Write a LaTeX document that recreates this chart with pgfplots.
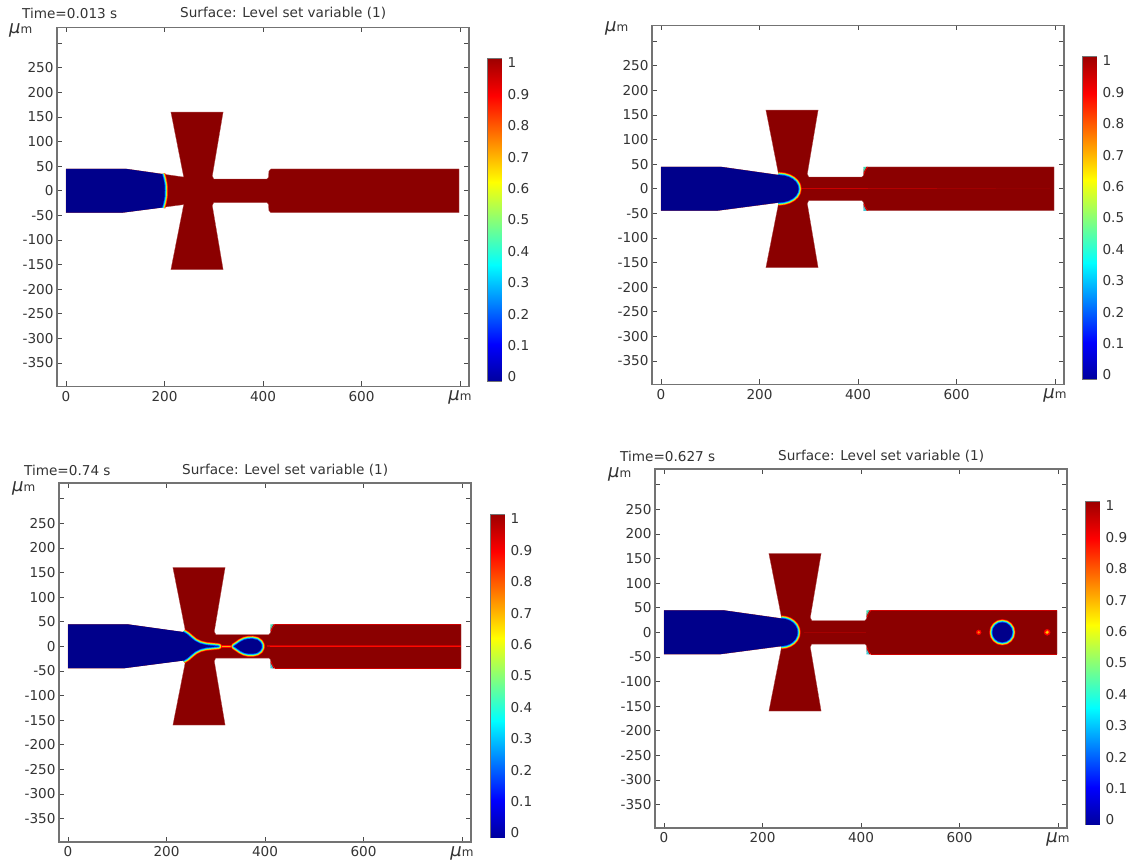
\documentclass[border=0pt]{standalone}
\usepackage{pgfplots}
\usepackage{fontspec}
\setmainfont{DejaVu Sans}
\pgfplotsset{compat=1.18}
\definecolor{navyb}{RGB}{0,0,139}
\definecolor{darkr}{RGB}{139,0,0}
\definecolor{txt}{gray}{0.2}
\definecolor{boxc}{gray}{0.45}
\newcommand\tl{\fontsize{13.6}{16}\selectfont}
\newcommand\um{{\fontsize{18}{18}\selectfont\itshape µ}{\fontsize{12}{12}\selectfont m}}
\pgfplotsset{
  panel/.style={
    scale only axis, width=412pt, height=359pt, anchor=south west,
    xmin=-18.3, xmax=818.3, ymin=-397.8, ymax=332,
    xtick={0,200,400,600,800},
    xticklabels={0,200,400,600,{\um}},
    ytick={-350,-300,-250,-200,-150,-100,-50,0,50,100,150,200,250,300},
    yticklabels={-350,-300,-250,-200,-150,-100,-50,0,50,100,150,200,250,{}},
    tick align=inside, major tick length=5pt,
    tick style={black!70, line width=0.7pt},
    axis line style={boxc, line width=1.2pt},
    tick label style={font=\tl, text=txt},
    xticklabel style={yshift=-1pt},
    clip=true,
  },
  cb/.style={
    scale only axis, width=13pt, height=322pt, anchor=south west,
    xmin=0, xmax=1, ymin=-0.0127, ymax=1.0127,
    point meta min=-0.05, point meta max=1.05,
    xtick=\empty,
    ytick={0,0.1,0.2,0.3,0.4,0.5,0.6,0.7,0.8,0.9,1},
    yticklabels={0,0.1,0.2,0.3,0.4,0.5,0.6,0.7,0.8,0.9,1},
    yticklabel pos=right,
    tick align=inside, major tick length=2.5pt,
    tick style={black!75, line width=0.7pt},
    axis line style={boxc, line width=1.1pt},
    tick label style={font=\tl, text=txt},
    yticklabel style={xshift=3pt},
    colormap={jetc}{rgb255(0)=(0,0,128) rgb255(14)=(0,0,255) rgb255(37)=(0,255,255) rgb255(61)=(255,255,0) rgb255(86)=(255,0,0) rgb255(100)=(128,0,0)},
  },
  lay/.style={line join=round, line cap=butt, fill=none},
}
% the fluid domain
\newcommand\domain{%
 \addplot[fill=darkr, draw=darkr!70!white, line width=0.3pt] coordinates {
 (0,44.5)(122,44.5)(239,28)(213,160)(319,160)(297,30)(300,24)(408,24)(411,27)(412,40)(416,44.5)
 (798,44.5)(798,-44.5)(416,-44.5)(412,-40)(411,-27)(408,-24)(300,-24)(297,-30)(319,-160)(213,-160)
 (239,-28)(113,-44.5)(0,-44.5)} -- cycle;}
% interface: nested strokes from dark outside to blue inside
\newcommand\bandsopen[1]{%
 \addplot[lay, draw={rgb,255:red,255;green,0;blue,0}, line width=6.6pt] coordinates {#1};
 \addplot[lay, draw={rgb,255:red,255;green,140;blue,0}, line width=5.4pt] coordinates {#1};
 \addplot[lay, draw={rgb,255:red,235;green,245;blue,0}, line width=4.4pt] coordinates {#1};
 \addplot[lay, draw={rgb,255:red,90;green,255;blue,150}, line width=3.5pt] coordinates {#1};
 \addplot[lay, draw={rgb,255:red,0;green,225;blue,255}, line width=2.6pt] coordinates {#1};
 \addplot[lay, draw={rgb,255:red,0;green,80;blue,255}, line width=1.5pt] coordinates {#1};}
\newcommand\bandsclosed[1]{%
 \addplot[lay, draw={rgb,255:red,255;green,0;blue,0}, line width=6.6pt] coordinates {#1} -- cycle;
 \addplot[lay, draw={rgb,255:red,255;green,140;blue,0}, line width=5.4pt] coordinates {#1} -- cycle;
 \addplot[lay, draw={rgb,255:red,235;green,245;blue,0}, line width=4.4pt] coordinates {#1} -- cycle;
 \addplot[lay, draw={rgb,255:red,90;green,255;blue,150}, line width=3.5pt] coordinates {#1} -- cycle;
 \addplot[lay, draw={rgb,255:red,0;green,225;blue,255}, line width=2.6pt] coordinates {#1} -- cycle;
 \addplot[lay, draw={rgb,255:red,0;green,80;blue,255}, line width=1.5pt] coordinates {#1} -- cycle;
 \addplot[fill=navyb, draw=none] coordinates {#1} -- cycle;}
\newcommand\navy[1]{\addplot[fill=navyb, draw=none] coordinates {#1} -- cycle;}
% step corners of the wide channel
\newcommand\corners{%
 \addplot[fill={rgb,255:red,70;green,215;blue,175}, draw=none] coordinates {(411,44.7)(417,44.7)(413.5,38)(411.5,33)} -- cycle;
 \addplot[fill={rgb,255:red,70;green,200;blue,210}, draw=none] coordinates {(411,-44.7)(417,-44.7)(413.5,-38)(411.5,-33)} -- cycle;
 \addplot[draw=red, line width=0.6pt] coordinates {(420,44.5)(415,38)(412.5,31)};
 \addplot[draw=red, line width=0.6pt] coordinates {(420,-44.5)(415,-38)(412.5,-31)};}
\newcommand\edges{%
 \addplot[draw={rgb,255:red,205;green,0;blue,0}, line width=0.5pt] coordinates {(420,44.2)(798,44.2)};
 \addplot[draw={rgb,255:red,205;green,0;blue,0}, line width=0.5pt] coordinates {(420,-44.2)(798,-44.2)};}
\newcommand\cbar[2]{%
 \begin{axis}[cb, at={(#1pt,#2pt)}]
 \addplot[surf, shader=interp, mesh/ordering=x varies, mesh/cols=2, point meta=y] coordinates {(0,-0.0127)(1,-0.0127)(0,1.0127)(1,1.0127)};
 \end{axis}}
\newcommand\nt[3]{\node[anchor=west, inner sep=0pt, font=\tl, text=txt] at (#1pt,#2pt) {#3};}
\begin{document}
\begin{tikzpicture}[x=1pt,y=1pt]
\path[use as bounding box] (0,0) rectangle (1134,865);
% Panel 1
\begin{axis}[panel, at={(57pt,478.5pt)}]
\domain
\bandsopen{(195,34)(198,23)(200,12)(200.5,0)(200,-12)(198,-23)(195,-34)}
\navy{(0,44.5)(122,44.5)(195,34)(198,23)(200,12)(200.5,0)(200,-12)(198,-23)(195,-34)(113,-44.5)(0,-44.5)}
\end{axis}
\cbar{488}{484}
% Panel 2
\begin{axis}[panel, at={(652pt,480.5pt)}]
\domain
\addplot[draw={rgb,255:red,205;green,0;blue,0}, line width=0.9pt] coordinates {(283,0)(420,0)};
\addplot[draw={rgb,255:red,180;green,0;blue,0}, line width=0.9pt] coordinates {(420,0)(560,0)};
\addplot[draw={rgb,255:red,160;green,0;blue,0}, line width=0.9pt] coordinates {(560,0)(680,0)};
\addplot[draw={rgb,255:red,148;green,0;blue,0}, line width=0.9pt] coordinates {(680,0)(790,0)};
\corners
\bandsopen{(238,28)(250.1,26.6)(259.5,23.8)(267.6,19.4)(273.8,13.8)(277.7,7.1)(279,0)(277.7,-7.1)(273.8,-13.8)(267.6,-19.4)(259.5,-23.8)(250.1,-26.6)(238,-28)}
\navy{(0,44.5)(122,44.5)(238,28)(250.1,26.6)(259.5,23.8)(267.6,19.4)(273.8,13.8)(277.7,7.1)(279,0)(277.7,-7.1)(273.8,-13.8)(267.6,-19.4)(259.5,-23.8)(250.1,-26.6)(238,-28)(113,-44.5)(0,-44.5)}
\end{axis}
\cbar{1083}{486}
% Panel 3
\begin{axis}[panel, at={(59pt,23pt)}]
\domain
\edges
\addplot[draw={rgb,255:red,200;green,0;blue,0}, line width=2.2pt] coordinates {(405,0)(798,0)};
\addplot[draw={rgb,255:red,255;green,10;blue,0}, line width=1.1pt] coordinates {(410,0)(798,0)};
\corners
\addplot[draw=red, line width=2.6pt] coordinates {(300,0)(338,0)};
\addplot[draw={rgb,255:red,255;green,170;blue,0}, line width=0.9pt] coordinates {(300,0)(334,0)};
\bandsopen{(234,29)(242,24)(250,17)(258,10.5)(268,5.5)(280,2.5)(295,1)(306,0)(295,-1)(280,-2.5)(268,-5.5)(258,-10.5)(250,-17)(242,-24)(234,-29)}
\navy{(0,44.5)(122,44.5)(234,29)(242,24)(250,17)(258,10.5)(268,5.5)(280,2.5)(295,1)(306,0)(295,-1)(280,-2.5)(268,-5.5)(258,-10.5)(250,-17)(242,-24)(234,-29)(113,-44.5)(0,-44.5)}
\bandsclosed{(337,0)(343,4)(350,9)(358,13)(366,14.8)(375,15)(384,13)(390,8.5)(393,3)(393,-3)(390,-8.5)(384,-13)(375,-15)(366,-14.8)(358,-13)(350,-9)(343,-4)}
\end{axis}
\cbar{491}{28}
% Panel 4
\begin{axis}[panel, at={(655pt,37pt)}]
\domain
\edges
\addplot[draw={rgb,255:red,165;green,0;blue,0}, line width=0.9pt] coordinates {(285,0)(410,0)};
\corners
\addplot[only marks, mark=*, mark size=2.4pt, draw=none, fill=red, mark options={draw=red, fill=red}] coordinates {(639,0)};
\addplot[only marks, mark=*, mark size=1pt, draw=none, mark options={draw=orange, fill=orange}] coordinates {(639,0)};
\addplot[only marks, mark=*, mark size=3pt, draw=none, mark options={draw=red, fill=red}] coordinates {(778,0)};
\addplot[only marks, mark=*, mark size=1.7pt, draw=none, mark options={draw=orange, fill=yellow!70!orange}] coordinates {(778,0)};
\bandsopen{(238,28)(247.3,26.6)(255,23.8)(261.6,19.4)(266.7,13.8)(269.9,7.1)(271,0)(269.9,-7.1)(266.7,-13.8)(261.6,-19.4)(255,-23.8)(247.3,-26.6)(238,-28)}
\navy{(0,44.5)(122,44.5)(238,28)(247.3,26.6)(255,23.8)(261.6,19.4)(266.7,13.8)(269.9,7.1)(271,0)(269.9,-7.1)(266.7,-13.8)(261.6,-19.4)(255,-23.8)(247.3,-26.6)(238,-28)(113,-44.5)(0,-44.5)}
\bandsclosed{(707,0)(705.5,7.7)(701.1,14.1)(694.7,18.5)(687,20)(679.3,18.5)(672.9,14.1)(668.5,7.7)(667,0)(668.5,-7.7)(672.9,-14.1)(679.3,-18.5)(687,-20)(694.7,-18.5)(701.1,-14.1)(705.5,-7.7)}
\end{axis}
\cbar{1086}{41}
% Titles
\nt{22}{851.5}{Time=0.013 s}
\nt{180}{851.5}{Surface: Level set variable (1)}
\nt{24}{395}{Time=0.74 s}
\nt{182}{395}{Surface: Level set variable (1)}
\nt{620}{409}{Time=0.627 s}
\nt{778}{409}{Surface: Level set variable (1)}
% y-axis units
\nt{9}{835}{\um}
\nt{605}{837}{\um}
\nt{12}{377}{\um}
\nt{608}{391}{\um}
\end{tikzpicture}
\end{document}
